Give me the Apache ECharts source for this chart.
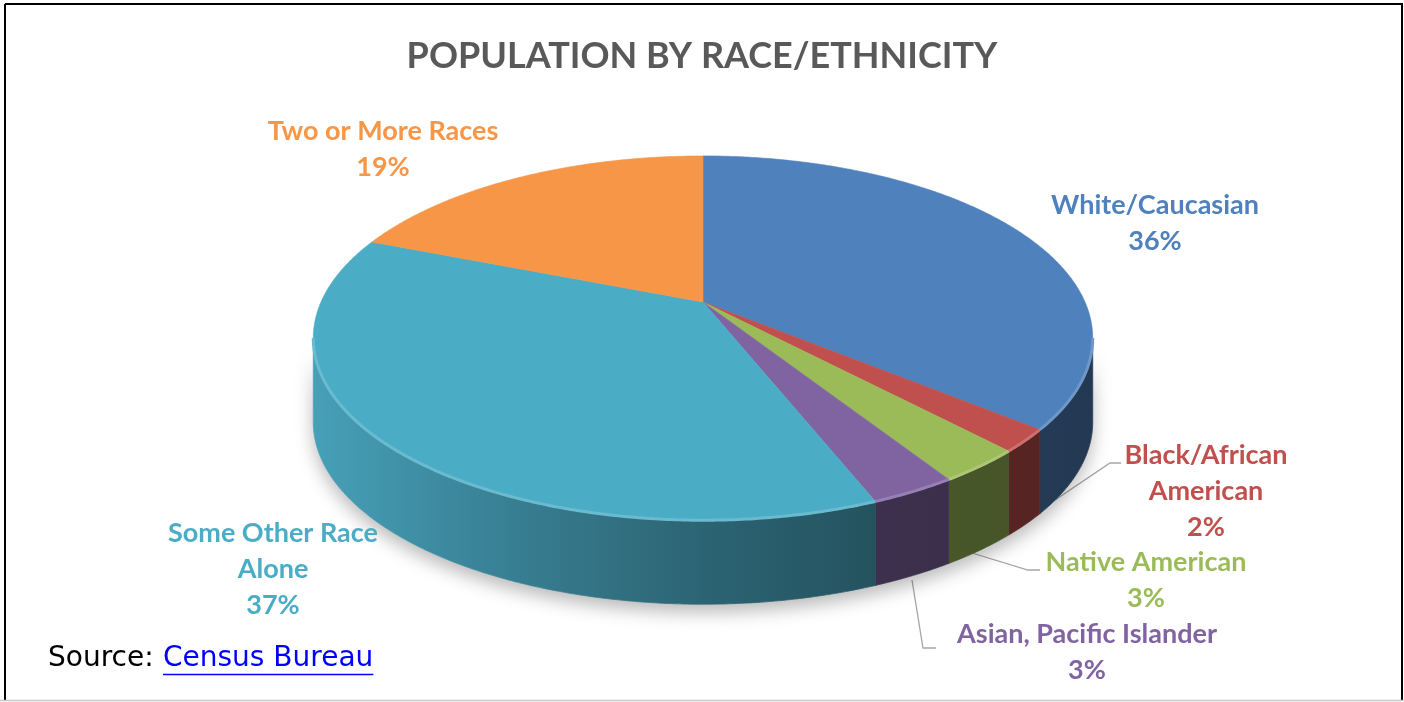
<!DOCTYPE html>
<html>
<head>
<meta charset="utf-8">
<script src="https://cdn.jsdelivr.net/npm/echarts@6/dist/echarts.min.js"></script>
<style>
  html, body { margin: 0; padding: 0; background: #fff; }
  #chart { width: 1404px; height: 702px; }
</style>
</head>
<body>
<div id="chart"></div>
<script>
// Population share by race/ethnicity (percent)
const categories = ['White/Caucasian', 'Black/African American', 'Native American',
                    'Asian, Pacific Islander', 'Some Other Race Alone', 'Two or More Races'];
const labelNames = ['White/Caucasian', 'Black/African\nAmerican', 'Native American',
                    'Asian, Pacific Islander', 'Some Other Race\nAlone', 'Two or More Races'];
const shares = [36, 2, 3, 3, 37, 19];

const colors = ['#4F81BD', '#C0504D', '#9BBB59', '#8064A2', '#4BACC6', '#F79646'];

// label anchors (centre x, top y of the text block)
const labelAnchors = [[1155, 187], [1206, 437], [1146, 544], [1087, 616], [273, 515], [383, 113]];

// tilted-disc projection: centre point, radii, perspective factor, wall height
const G = { cx: 703, cy: 302, A: 382, B: 175, k: 0.198, depth: 84 };
const TAU = Math.PI * 2;

function proj(theta) {
  const u = Math.sin(theta), v = -Math.cos(theta), w = 1 - G.k * v;
  return [G.cx + G.A * u / w, G.cy + G.B * v / w];
}
// angular range where the outer wall faces the viewer
const visA = Math.PI / 2 + Math.asin(G.k);
const visB = 3 * Math.PI / 2 - Math.asin(G.k);

function arcPts(a0, a1, dy) {
  const pts = [];
  const n = Math.max(2, Math.ceil((a1 - a0) / (Math.PI / 360)));
  for (let i = 0; i <= n; i++) {
    const p = proj(a0 + (a1 - a0) * i / n);
    pts.push([p[0], p[1] + (dy || 0)]);
  }
  return pts;
}
function rgb(hex) {
  const n = parseInt(hex.slice(1), 16);
  return [(n >> 16) & 255, (n >> 8) & 255, n & 255];
}
function shade(hex, f) {
  const c = rgb(hex);
  return 'rgb(' + c.map(x => Math.round(x * f)).join(',') + ')';
}
function lighten(hex, t) {
  const c = rgb(hex);
  return 'rgb(' + c.map(x => Math.round(x + (255 - x) * t)).join(',') + ')';
}
function wallFill(hex) {
  return {
    type: 'linear', x: 314, y: 0, x2: 1093, y2: 0, global: true,
    colorStops: [
      { offset: 0, color: shade(hex, 0.93) },
      { offset: 0.25, color: shade(hex, 0.74) },
      { offset: 0.5, color: shade(hex, 0.58) },
      { offset: 0.72, color: shade(hex, 0.48) },
      { offset: 1, color: shade(hex, 0.44) }
    ]
  };
}

const total = shares.reduce((a, b) => a + b, 0);
const starts = [];
shares.reduce((acc, v) => { starts.push(acc); return acc + v; }, 0);

const FONT = 'Lato, "Open Sans", sans-serif';
const NOTE_FONT = '28px "DejaVu Sans", sans-serif';

function renderItem(params, api) {
  const i = params.dataIndex;
  const v = api.value(0);
  const a0 = starts[i] / total * TAU;
  const a1 = a0 + v / total * TAU;
  const children = [];

  if (i === 0) {
    // soft shadow under the whole disc
    const top = arcPts(visA, visB);
    const bot = arcPts(visA, visB, G.depth).reverse();
    children.push({
      type: 'polygon', z2: 1,
      shape: { points: top.concat(bot) },
      style: { fill: '#fff', shadowBlur: 18, shadowOffsetY: 8, shadowColor: 'rgba(0,0,0,0.28)' }
    });
  }

  // top face
  children.push({
    type: 'polygon', z2: 10,
    shape: { points: [[G.cx, G.cy]].concat(arcPts(a0, a1)) },
    style: { fill: colors[i], stroke: colors[i], lineWidth: 0.6 }
  });

  // outer wall (front part only)
  const s0 = Math.max(a0, visA), s1 = Math.min(a1, visB);
  if (s1 > s0) {
    const top = arcPts(s0, s1);
    const bot = arcPts(s0, s1, G.depth).reverse();
    children.push({
      type: 'polygon', z2: 5,
      shape: { points: top.concat(bot) },
      style: { fill: wallFill(colors[i]), stroke: wallFill(colors[i]), lineWidth: 0.8 }
    });
    // bevel highlight along the rim
    children.push({
      type: 'polyline', z2: 11,
      shape: { points: top },
      style: { stroke: lighten(colors[i], 0.18), lineWidth: 3, fill: null }
    });
  }

  // data label
  const pct = Math.round(v / total * 100) + '%';
  children.push({
    type: 'text', z2: 20,
    style: {
      text: labelNames[i] + '\n' + pct,
      x: labelAnchors[i][0], y: labelAnchors[i][1],
      align: 'center', verticalAlign: 'top',
      fill: colors[i], font: 'bold 27px ' + FONT, lineHeight: 36
    }
  });
  return { type: 'group', children };
}

// underline length for the source link
const meas = document.createElement('canvas').getContext('2d');
meas.font = NOTE_FONT;
const linkW = meas.measureText('Census Bureau').width;

const leaderStyle = { stroke: '#A6A6A6', lineWidth: 1.3, fill: null };

const option = {
  animation: false,
  backgroundColor: '#fff',
  title: {
    text: 'POPULATION BY RACE/ETHNICITY',
    left: 'center', top: 33,
    textStyle: { color: '#595959', fontSize: 36, fontWeight: 'bold', fontFamily: FONT }
  },
  series: [{
    type: 'custom',
    coordinateSystem: 'none',
    name: 'Population',
    data: shares.map((v, i) => ({ name: categories[i], value: [v] })),
    renderItem: renderItem
  }],
  graphic: [
    // frame
    { type: 'line', shape: { x1: 5, y1: 4, x2: 1403, y2: 4 }, style: { stroke: '#000', lineWidth: 2 } },
    { type: 'line', shape: { x1: 5, y1: 4, x2: 5, y2: 700 }, style: { stroke: '#000', lineWidth: 2 } },
    { type: 'line', shape: { x1: 1402, y1: 4, x2: 1402, y2: 700 }, style: { stroke: '#000', lineWidth: 2 } },
    { type: 'line', shape: { x1: 0, y1: 700.5, x2: 1404, y2: 700.5 }, style: { stroke: '#C8C8C8', lineWidth: 1.5 } },
    // leader lines for the small slices
    { type: 'polyline', shape: { points: [[1015, 527], [1110, 463], [1121, 463]] }, style: leaderStyle },
    { type: 'polyline', shape: { points: [[972, 553], [1028, 570], [1040, 570]] }, style: leaderStyle },
    { type: 'polyline', shape: { points: [[912, 580], [923, 648], [936, 648]] }, style: leaderStyle },
    // source note
    { type: 'text', style: { text: 'Source:', x: 48, y: 659, verticalAlign: 'middle', fill: '#000', font: NOTE_FONT } },
    { type: 'text', style: { text: 'Census Bureau', x: 163, y: 659, verticalAlign: 'middle', fill: '#0000FF', font: NOTE_FONT } },
    { type: 'line', shape: { x1: 163, y1: 674.5, x2: 163 + linkW, y2: 674.5 }, style: { stroke: '#0000FF', lineWidth: 1.5 } }
  ]
};

const chart = echarts.init(document.getElementById('chart'));
chart.setOption(option);
</script>
</body>
</html>
